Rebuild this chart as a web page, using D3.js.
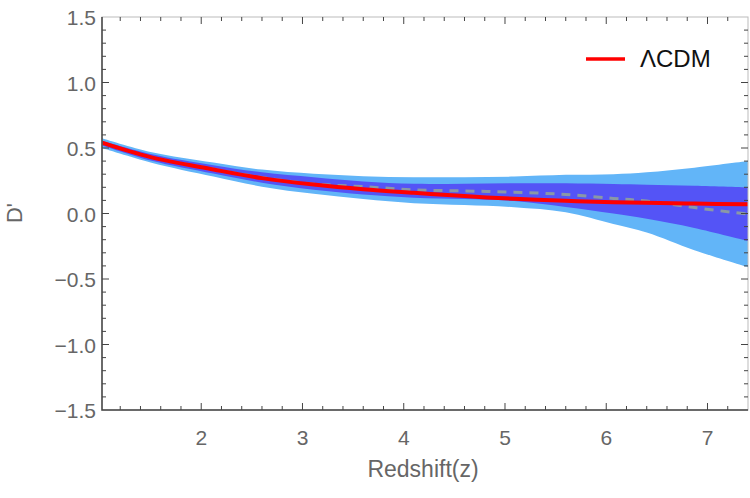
<!DOCTYPE html>
<html>
<head>
<meta charset="utf-8">
<script src="https://cdnjs.cloudflare.com/ajax/libs/d3/7.8.5/d3.min.js"></script>
<style>
  body { margin: 0; background: #fff; }
  text { font-family: "Liberation Sans", Arial, sans-serif; }
</style>
</head>
<body>
<svg id="chart" width="750" height="498"></svg>
<script>
// redshift sample points
let zs = [1.02, 1.5, 2.12, 2.6, 3.11, 3.6, 4.1, 4.6, 5.09, 5.6, 6.07, 6.4, 6.87, 7.40];
// LCDM prediction
let lcdm = [0.54, 0.43, 0.336, 0.27, 0.221, 0.185, 0.158, 0.133, 0.112, 0.097, 0.086, 0.082, 0.076, 0.070];
// reconstructed mean (dashed)
let mean_rec = [0.54, 0.43, 0.338, 0.275, 0.226, 0.205, 0.181, 0.172, 0.163, 0.145, 0.115, 0.095, 0.045, -0.005];
// 1 sigma band
let sig1_hi = [0.556, 0.455, 0.369, 0.315, 0.277, 0.245, 0.227, 0.228, 0.231, 0.231, 0.225, 0.22, 0.212, 0.20];
let sig1_lo = [0.52, 0.405, 0.305, 0.235, 0.181, 0.145, 0.120, 0.11, 0.095, 0.05, 0.0, -0.04, -0.11, -0.21];
// 2 sigma band
let sig2_hi = [0.575, 0.47, 0.389, 0.335, 0.303, 0.285, 0.277, 0.277, 0.282, 0.295, 0.30, 0.315, 0.35, 0.40];
let sig2_lo = [0.5, 0.39, 0.282, 0.205, 0.150, 0.11, 0.079, 0.065, 0.048, 0.01, -0.08, -0.145, -0.28, -0.41];

let x_ticks = [2, 3, 4, 5, 6, 7];
let y_ticks = [-1.5, -1.0, -0.5, 0.0, 0.5, 1.0, 1.5];
let legend_label = "\u039BCDM";

let frame_color = "#444";
let label_color = "#666";

let svg = d3.select("#chart");
let x = d3.scaleLinear().domain([1.02, 7.40]).range([102, 748]);
let y = d3.scaleLinear().domain([-1.5, 1.5]).range([410, 17]);

let pts = zs.map((z, i) => ({z: z, i: i}));

// clip the curves to the frame
svg.append("clipPath").attr("id", "clip")
  .append("rect").attr("x", 102).attr("y", 17).attr("width", 646).attr("height", 393);

let plot = svg.append("g").attr("clip-path", "url(#clip)");

function band(hi, lo) {
  return d3.area()
    .x(d => x(d.z))
    .y0(d => y(lo[d.i]))
    .y1(d => y(hi[d.i]))
    .curve(d3.curveCatmullRom);
}
function line(vals) {
  return d3.line()
    .x(d => x(d.z))
    .y(d => y(vals[d.i]))
    .curve(d3.curveCatmullRom);
}

plot.append("path").attr("d", band(sig2_hi, sig2_lo)(pts)).attr("fill", "#62b5f8");
plot.append("path").attr("d", band(sig1_hi, sig1_lo)(pts)).attr("fill", "#5454f6");
plot.append("path").attr("d", line(mean_rec)(pts))
  .attr("fill", "none").attr("stroke", "#8a98a6").attr("stroke-width", 3)
  .attr("stroke-dasharray", "9,7");
plot.append("path").attr("d", line(lcdm)(pts))
  .attr("fill", "none").attr("stroke", "#ff0000").attr("stroke-width", 4);

// frame: left and bottom are the strong ones
let fr = svg.append("g").attr("fill", "none");
fr.append("rect").attr("x", 102).attr("y", 17).attr("width", 646).attr("height", 393)
  .attr("stroke", "#bbb").attr("stroke-width", 1);
fr.append("path").attr("d", "M102,17V410H748")
  .attr("stroke", frame_color).attr("stroke-width", 1.5);

// ticks, pointing inward on all sides
let ticks = svg.append("g").attr("stroke", frame_color).attr("stroke-width", 1);
let x_minor = d3.range(1.2, 7.40, 0.2);
for(let v of x_minor) {
  let major = Math.abs(v - Math.round(v)) < 1e-6;
  let len = major ? 7 : 4;
  ticks.append("line").attr("x1", x(v)).attr("x2", x(v)).attr("y1", 410).attr("y2", 410 - len);
  ticks.append("line").attr("x1", x(v)).attr("x2", x(v)).attr("y1", 17).attr("y2", 17 + len);
}
let y_minor = d3.range(-14, 15).map(k => k / 10);
for(let v of y_minor) {
  let major = Math.abs(v * 2 - Math.round(v * 2)) < 1e-6;
  let len = major ? 7 : 4;
  ticks.append("line").attr("x1", 102).attr("x2", 102 + len).attr("y1", y(v)).attr("y2", y(v));
  ticks.append("line").attr("x1", 748).attr("x2", 748 - len).attr("y1", y(v)).attr("y2", y(v));
}

// tick labels
svg.append("g").selectAll("text").data(x_ticks).join("text")
  .attr("x", d => x(d)).attr("y", 445)
  .attr("text-anchor", "middle").attr("font-size", 21).attr("fill", label_color)
  .text(d => d);
svg.append("g").selectAll("text").data(y_ticks).join("text")
  .attr("x", 96).attr("y", d => y(d) + 8)
  .attr("text-anchor", "end").attr("font-size", 21).attr("fill", label_color)
  .text(d => d < 0 ? "\u2212" + Math.abs(d).toFixed(1) : d.toFixed(1));

// axis titles
svg.append("text").attr("x", 423).attr("y", 477).attr("text-anchor", "middle")
  .attr("font-size", 23).attr("fill", label_color).text("Redshift(z)");
svg.append("text").attr("transform", "translate(22,213) rotate(-90)")
  .attr("text-anchor", "middle").attr("font-size", 22).attr("fill", label_color).text("D'");

// legend
svg.append("line").attr("x1", 586).attr("x2", 625).attr("y1", 59).attr("y2", 59)
  .attr("stroke", "#ff0000").attr("stroke-width", 3.5);
svg.append("text").attr("x", 640).attr("y", 67).attr("font-size", 24).attr("fill", "#111")
  .text(legend_label);
</script>
</body>
</html>
